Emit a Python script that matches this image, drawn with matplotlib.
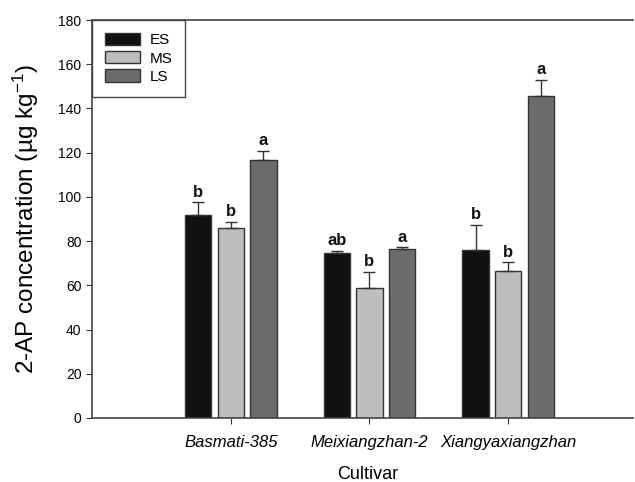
import matplotlib
matplotlib.use('Agg')
import matplotlib.pyplot as plt
import numpy as np

plt.rcParams['font.family'] = ['Liberation Sans', 'DejaVu Sans']
plt.rcParams['axes.unicode_minus'] = False

cultivars = ['Basmati-385', 'Meixiangzhan-2', 'Xiangyaxiangzhan']
stages = ['ES', 'MS', 'LS']
means = {
    'ES': [91.8, 74.8, 76.1],
    'MS': [86.1, 58.8, 66.6],
    'LS': [116.8, 76.4, 145.8],
}
errs = {
    'ES': [5.7, 0.7, 11.2],
    'MS': [2.5, 7.2, 3.8],
    'LS': [4.1, 0.8, 7.1],
}
letters = {
    'ES': ['b', 'ab', 'b'],
    'MS': ['b', 'b', 'b'],
    'LS': ['a', 'a', 'a'],
}
colors = {'ES': '#111111', 'MS': '#bdbdbd', 'LS': '#6b6b6b'}

fig = plt.figure(figsize=(6.35, 4.82), dpi=100)
ax = fig.add_axes([0.1449, 0.1328, 0.852, 0.8257])

x = np.arange(1, len(cultivars) + 1)
step = 0.235
width = 0.19
for i, s in enumerate(stages):
    pos = x + (i - 1) * step
    ax.bar(pos, means[s], width, color=colors[s], edgecolor='#333333',
           linewidth=1, label=s, zorder=2)
    ax.errorbar(pos, means[s], yerr=[np.zeros(3), errs[s]], fmt='none',
                ecolor='#333333', elinewidth=1, capsize=4.3, capthick=1,
                zorder=3)
    for p, m, e, t in zip(pos, means[s], errs[s], letters[s]):
        ax.text(p, m + e + 1.2, t, ha='center', va='bottom',
                fontsize=12, fontweight='bold', color='#111111')

ax.set_xlim(0, 3.9)
ax.set_ylim(0, 180)
ax.set_yticks(np.arange(0, 181, 20))
ax.set_xticks(x)
ax.set_xticklabels(cultivars, fontsize=12, style='italic')
ax.tick_params(axis='y', labelsize=10, direction='out', length=4, color='#333333')
ax.tick_params(axis='x', direction='out', length=4, color='#333333', pad=8)
ax.spines['right'].set_visible(False)
for sp in ['left', 'bottom', 'top']:
    ax.spines[sp].set_color('#444444')
    ax.spines[sp].set_linewidth(1.2)

ax.set_ylabel('2-AP concentration (µg kg$\\mathregular{^{-1}}$)', fontsize=17.5)
ax.yaxis.set_label_coords(-0.095, 0.5)
ax.set_xlabel('Cultivar', fontsize=13)
ax.xaxis.set_label_coords(0.51, -0.12)

leg = ax.legend(loc='upper left', bbox_to_anchor=(0, 1), fontsize=11,
                fancybox=False, edgecolor='#444444', framealpha=1,
                handlelength=2.3, handleheight=0.85, borderpad=0.85,
                labelspacing=0.25, borderaxespad=0, handletextpad=0.6)
leg.get_frame().set_linewidth(1)

fig.savefig('out.png', dpi=100)
